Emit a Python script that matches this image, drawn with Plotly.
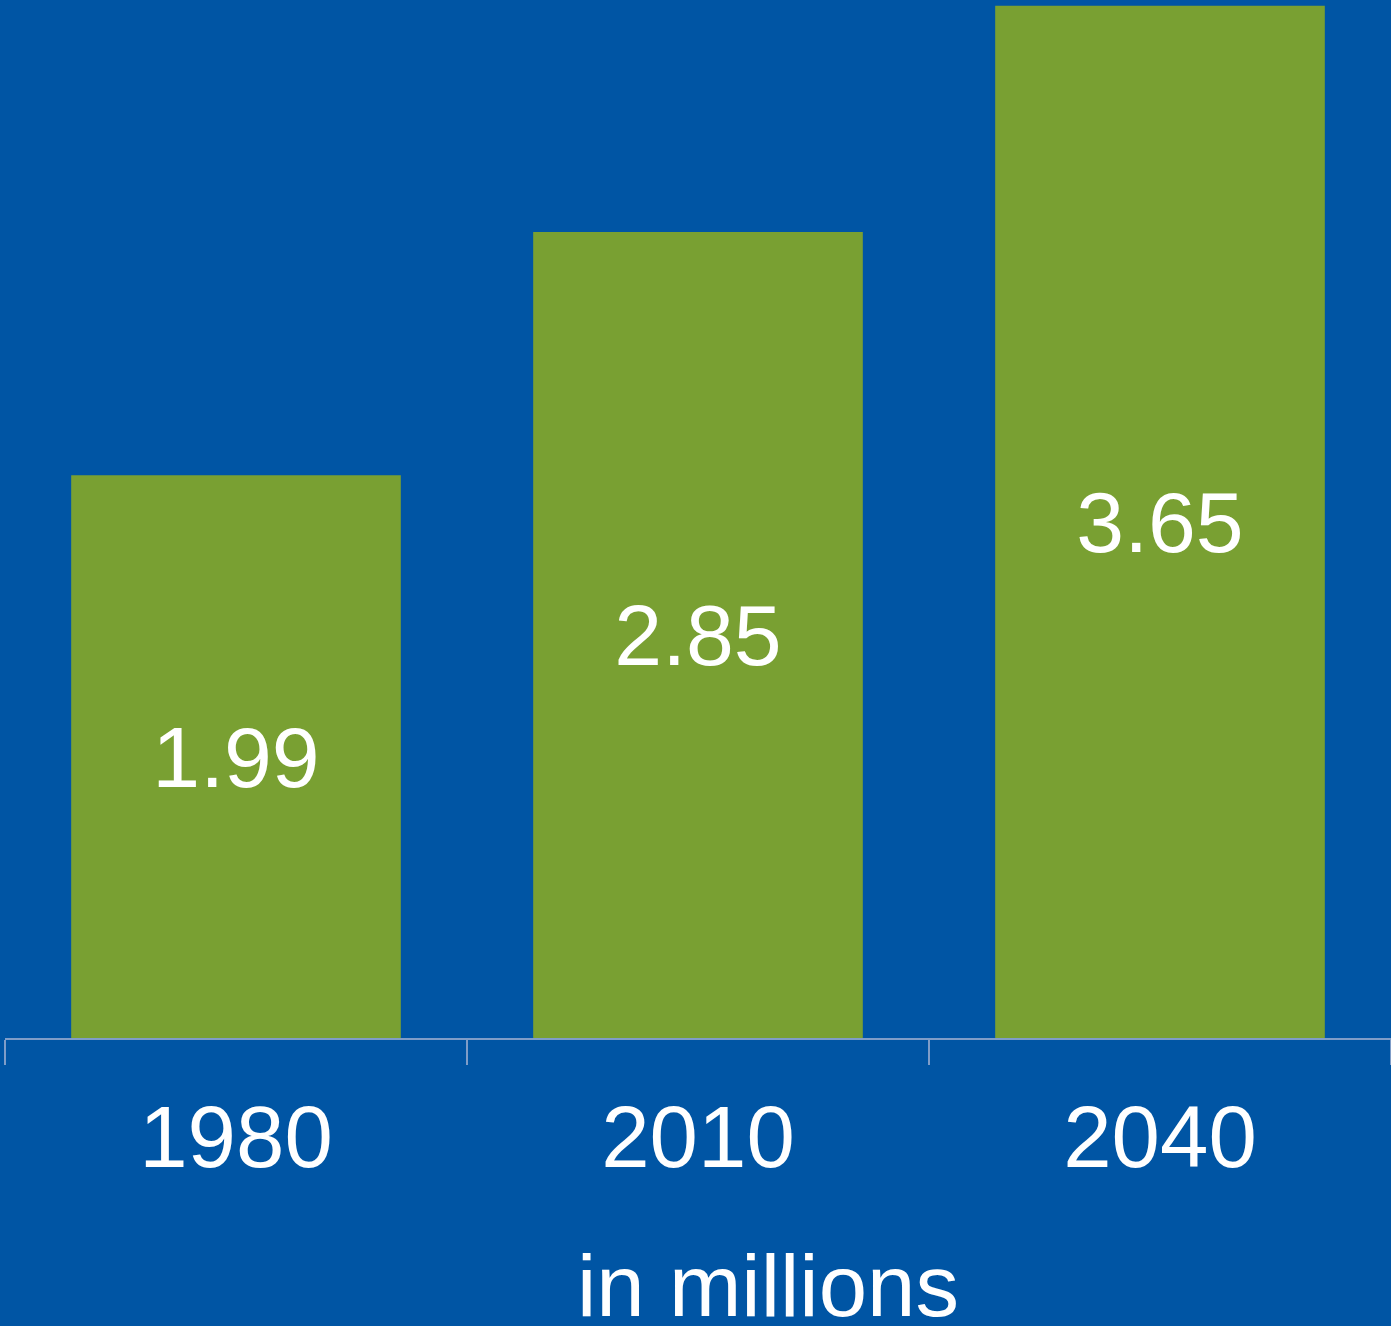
import plotly.graph_objects as go

years = ["1980", "2010", "2040"]
values = [1.99, 2.85, 3.65]
value_labels = ["1.99", "2.85", "3.65"]
axis_note = "in millions"

BG = "#0055A4"
GREEN = "#79A032"
FONT = "Liberation Sans, Arial, sans-serif"

W, H = 1391, 1326
ml, mr, mt, mb = 5, 0, 0, 288
plot_h = H - mt - mb

fig = go.Figure(
    go.Bar(
        x=years,
        y=values,
        text=value_labels,
        textposition="inside",
        insidetextanchor="middle",
        textfont=dict(family=FONT, size=86, color="white"),
        marker=dict(color=GREEN, line=dict(width=0)),
        hoverinfo="skip",
    )
)

fig.update_layout(
    width=W,
    height=H,
    margin=dict(l=ml, r=mr, t=mt, b=mb, pad=0),
    paper_bgcolor=BG,
    plot_bgcolor=BG,
    bargap=0.2865,
    showlegend=False,
    font=dict(family=FONT, color="white"),
)

fig.update_xaxes(
    type="category",
    showline=True,
    linecolor="#7F9DC8",
    linewidth=2,
    ticks="outside",
    tickson="boundaries",
    ticklen=25,
    tickwidth=2,
    tickcolor="#7F9DC8",
    tickfont=dict(family=FONT, size=87, color="white"),
    showgrid=False,
    zeroline=False,
    ticklabelstandoff=23,
)

fig.update_yaxes(
    range=[0, 3.67],
    visible=False,
    showgrid=False,
    zeroline=False,
)

fig.add_annotation(
    text=axis_note,
    xref="paper",
    yref="paper",
    x=(768 - ml) / (W - ml - mr),
    y=-(1285 - plot_h) / plot_h,
    xanchor="center",
    yanchor="middle",
    showarrow=False,
    font=dict(family=FONT, size=87, color="white"),
)

fig.write_html(
    "out.html",
    config={"displayModeBar": False},
    post_script="document.body.style.margin='0';document.body.style.overflow='hidden';document.body.style.background='#0055A4';",
)
